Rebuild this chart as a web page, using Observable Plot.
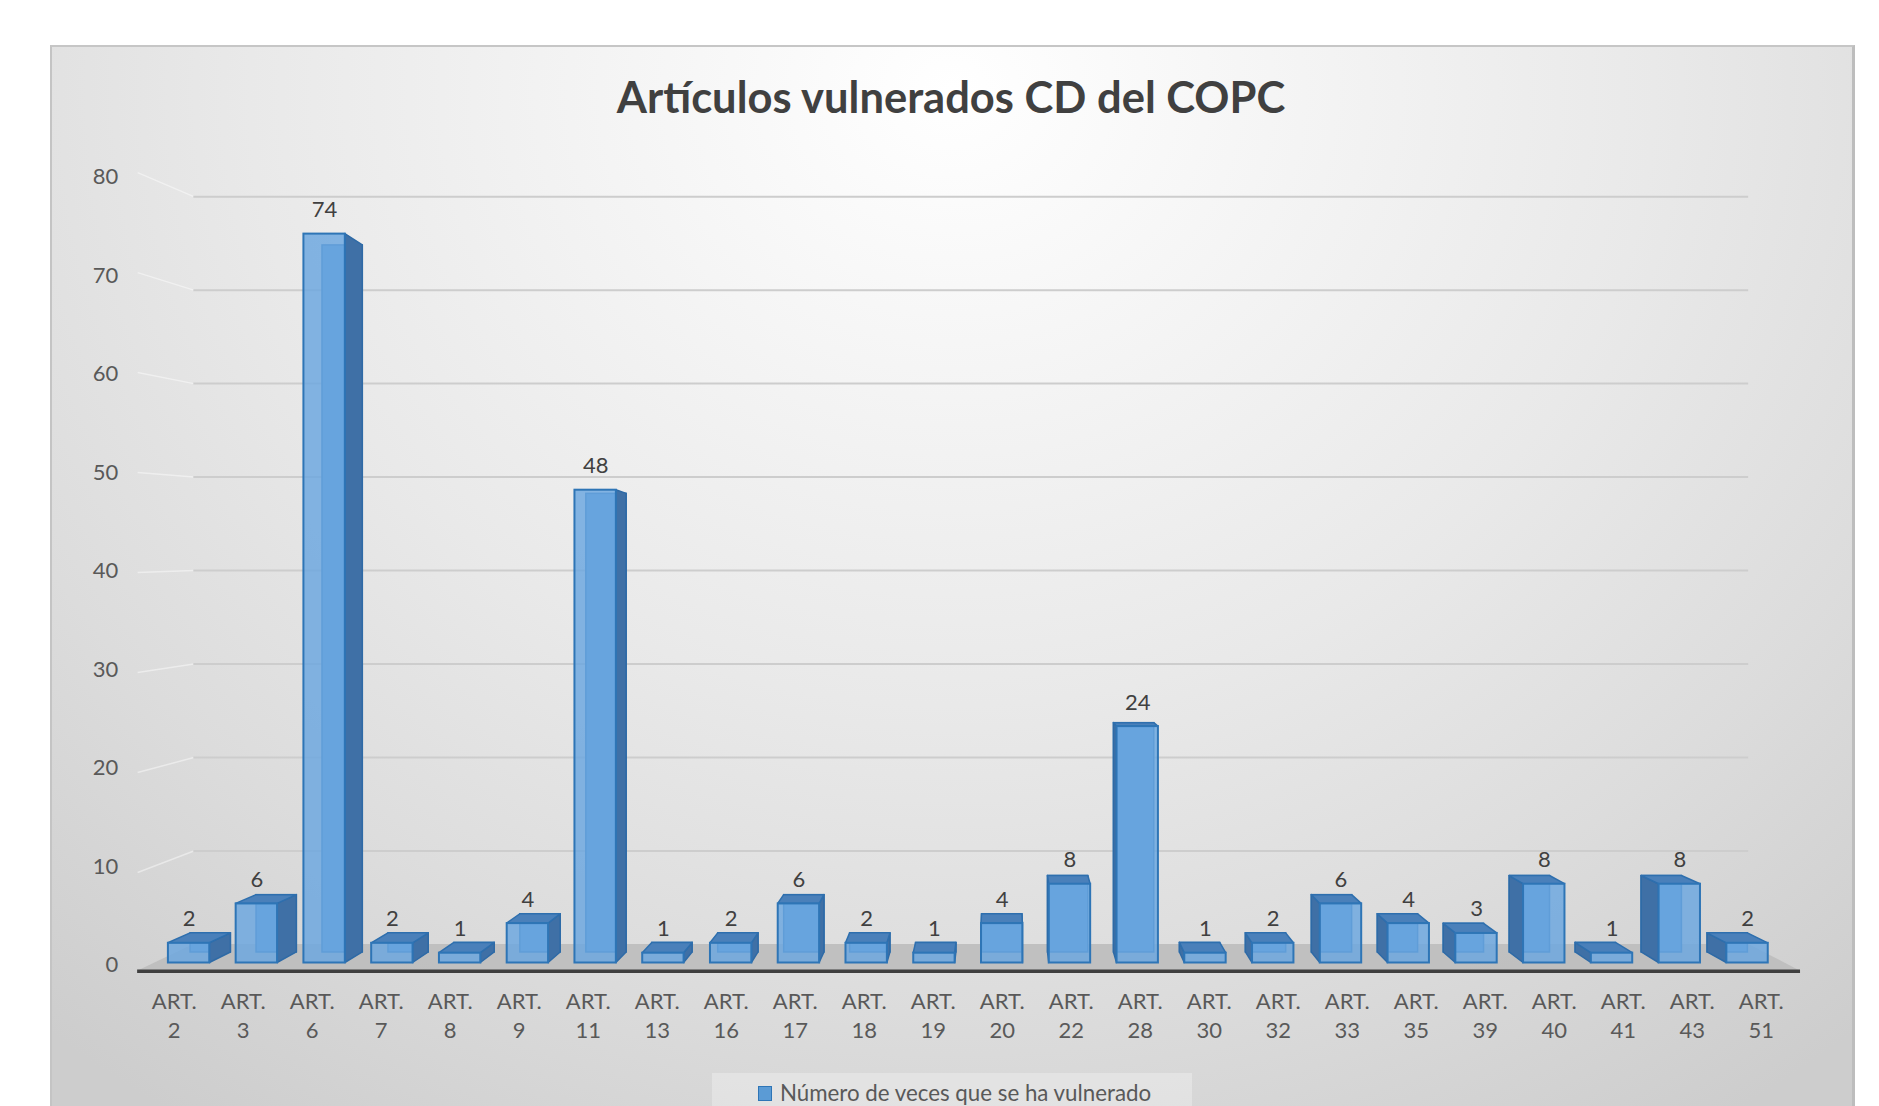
<!DOCTYPE html>
<html>
<head>
<meta charset="utf-8">
<script src="https://cdn.jsdelivr.net/npm/d3@7"></script>
<script src="https://cdn.jsdelivr.net/npm/@observablehq/plot@0.6"></script>
<style>
  html, body { margin: 0; padding: 0; background: #ffffff; }
  #page { position: relative; width: 1879px; height: 1106px; overflow: hidden; font-family: Lato, "Open Sans", sans-serif; }
  #panel {
    position: absolute; left: 50px; top: 45px; width: 1800px; height: 1070px;
    border-top: 2px solid #c6c6c6; border-left: 2px solid #c4c4c4; border-right: 3px solid #bdbdbd;
    background: radial-gradient(ellipse 78% 115% at 50% 4%, #ffffff 0%, #f4f4f4 25%, #e9e9e9 50%, #dcdcdc 75%, #cdcdcd 100%);
  }
  #title {
    position: absolute; left: 50px; width: 1802px; top: 75px; text-align: center;
    font-family: Lato, sans-serif; font-weight: 700; font-size: 43.5px; line-height: 43.5px; color: #404040;
  }
  #chart { position: absolute; left: 0; top: 140px; }
  #legend {
    position: absolute; left: 712px; top: 1073px; width: 480px; height: 40px;
    background: rgba(255,255,255,0.28);
  }
  #legend .sw { position: absolute; left: 46px; top: 13px; width: 12px; height: 13px; background: #5b9bd5; border: 1.5px solid #2e75b6; }
  #legend .lb { position: absolute; left: 68px; top: 9px; font-family: Lato, sans-serif; font-size: 22.3px; line-height: 22px; color: #595959; white-space: nowrap; }
</style>
</head>
<body>
<div id="page">
  <div id="panel"></div>
  <div id="title">Artículos vulnerados CD del COPC</div>
  <div id="chart"></div>
  <div id="legend"><div class="sw"></div><div class="lb">Número de veces que se ha vulnerado</div></div>
</div>
<script>
// ---- data ----
const categories = ["ART. 2","ART. 3","ART. 6","ART. 7","ART. 8","ART. 9","ART. 11","ART. 13","ART. 16","ART. 17","ART. 18","ART. 19","ART. 20","ART. 22","ART. 28","ART. 30","ART. 32","ART. 33","ART. 35","ART. 39","ART. 40","ART. 41","ART. 43","ART. 51"];
const values = [2, 6, 74, 2, 1, 4, 48, 1, 2, 6, 2, 1, 4, 8, 24, 1, 2, 6, 4, 3, 8, 1, 8, 2];
const yTicks = [0, 10, 20, 30, 40, 50, 60, 70, 80];
const seriesName = "Número de veces que se ha vulnerado";

// ---- pseudo-3D projection helpers (in scale units) ----
const C = 12;                 // vanishing column
const HW = 0.30;              // half width of a bar's front face
const xf = i => C + (i - C) * 0.982;      // front-face centre
const xb = x => C + (x - C) * 0.9734;     // back plane x
const yb = v => 1.07 + 0.970 * v;         // back plane y of bar
const gy = v => 1.88 + 0.949 * v;         // back wall y
const yside = v => -0.96 + 1.015 * v;     // front edge of side wall
const FLOOR_FRONT = -0.83;
const floorX0 = -0.53, floorX1 = 23.57;
const fb = x => C + (x - C) * 0.935;      // floor back x

const bars = categories.map((c, i) => {
  const v = values[i], xl = xf(i) - HW, xr = xf(i) + HW;
  return {c, i, v, xc: xf(i), xl, xr, bl: xb(xl), br: xb(xr)};
});
const sides = bars.flatMap(b => {
  const left = b.i > C;
  return [
    {i: b.i, x: left ? b.xl : b.xr, y1: 0, y2: b.v},
    {i: b.i, x: left ? b.bl : b.br, y1: yb(0), y2: yb(b.v)}
  ];
});
const tops = bars.filter(b => yb(b.v) > b.v).flatMap(b => [
  {i: b.i, y: b.v, x1: b.xl, x2: b.xr},
  {i: b.i, y: yb(b.v), x1: b.bl, x2: b.br}
]);
const floor = [
  {y: FLOOR_FRONT, x1: floorX0, x2: floorX1},
  {y: gy(0), x1: fb(floorX0), x2: fb(floorX1)}
];
const gridTicks = yTicks.filter(t => t > 0);
const sideLines = gridTicks.map(t => ({x1: floorX0, y1: yside(t), x2: fb(floorX0), y2: gy(t)}));

const W = 1879, H = 930;
const chart = Plot.plot({
  width: W, height: H,
  marginLeft: 139.2, marginRight: 83.8, marginTop: 34.5, marginBottom: 107.5,
  style: {background: "transparent", fontFamily: "Lato, 'Open Sans', sans-serif", fontSize: "22px", color: "#595959", overflow: "visible"},
  x: {type: "linear", domain: [-0.5, 23.5]},
  y: {domain: [0, 80]},
  marks: [
    // side wall lines
    Plot.link(sideLines, {x1: "x1", y1: "y1", x2: "x2", y2: "y2", stroke: "#ffffff", strokeOpacity: 0.45, strokeWidth: 1.5}),
    // back wall gridlines
    Plot.ruleY(gridTicks, {y: d => gy(d), x1: () => fb(floorX0), x2: () => fb(floorX1), stroke: "#cdcdcd", strokeWidth: 2}),
    // floor
    Plot.areaX(floor, {y: "y", x1: "x1", x2: "x2", fill: "#bdbdbd", fillOpacity: 0.9}),
    Plot.ruleY([FLOOR_FRONT], {x1: () => floorX0, x2: () => floorX1, stroke: "#3f3f3f", strokeWidth: 3.5}),
    // back faces
    Plot.rect(bars, {x1: "bl", x2: "br", y1: () => yb(0), y2: d => yb(d.v), fill: "#5b9bd5", stroke: "#2e75b6", strokeWidth: 1.5}),
    // side faces
    Plot.areaY(sides, {x: "x", y1: "y1", y2: "y2", z: "i", fill: "#3f70a6", stroke: "#2e6aa6", strokeWidth: 1.5}),
    // top faces
    Plot.areaX(tops, {y: "y", x1: "x1", x2: "x2", z: "i", fill: "#4a80ba", stroke: "#2e6fae", strokeWidth: 1.5}),
    // front faces
    Plot.rect(bars, {x1: "xl", x2: "xr", y1: () => 0, y2: "v", fill: "#6aa6df", fillOpacity: 0.82, stroke: "#2e75b6", strokeWidth: 2}),
    // value labels
    Plot.text(bars, {x: "xc", y: "v", text: d => String(d.v), dy: -24, fill: "#404040", fontSize: 22}),
    Plot.axisY({ticks: yTicks, tickSize: 0, tickPadding: 21.5, dy: 2, fontSize: 22, label: null}),
    Plot.axisX({ticks: d3.range(categories.length), tickFormat: i => categories[i].replace(" ", "\n"), tickSize: 0, tickPadding: 25.5, lineHeight: 1.32, fontSize: 22, label: null})
  ]
});
document.getElementById("chart").appendChild(chart);
</script>
</body>
</html>
